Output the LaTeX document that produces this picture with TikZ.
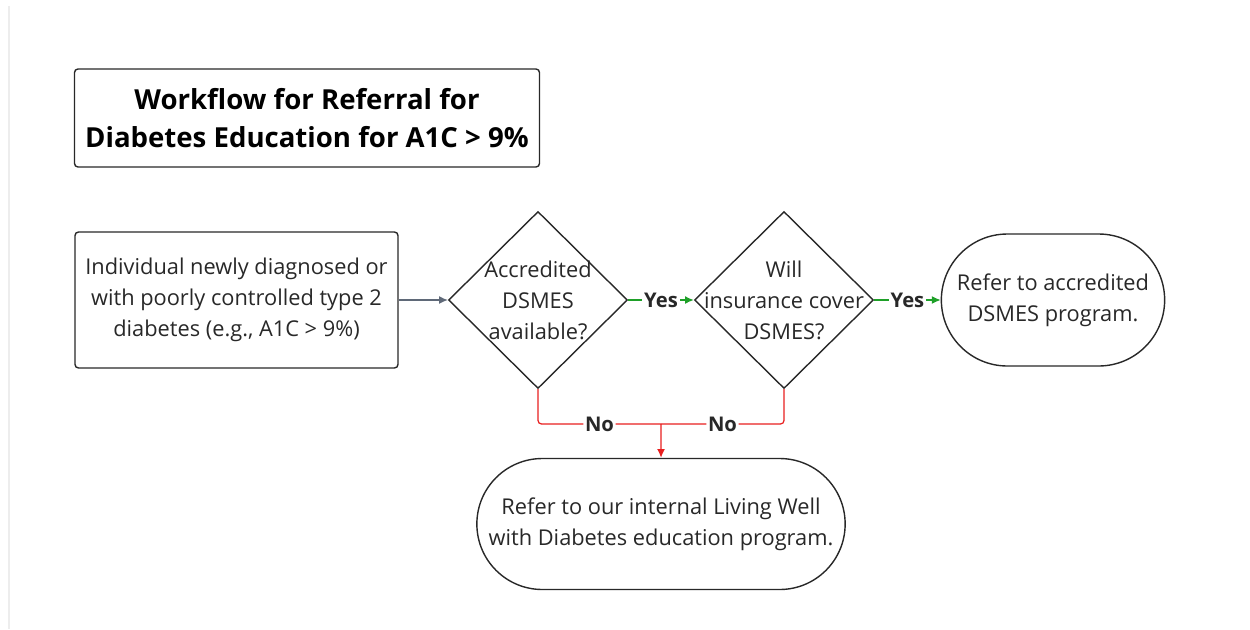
\documentclass[tikz,border=0pt]{standalone}
\usepackage{fontspec}
\setmainfont{Open Sans}
\usepackage{tikz}
\usetikzlibrary{arrows.meta}
\usetikzlibrary{shapes.geometric,shapes.misc}

\definecolor{inktext}{RGB}{40,40,40}
\definecolor{yesgreen}{RGB}{30,160,40}
\definecolor{nored}{RGB}{232,30,30}
\definecolor{flowgray}{RGB}{95,105,120}

\begin{document}
\begin{tikzpicture}[
    box/.style={draw=inktext, rectangle, rounded corners=2pt, align=center, text=inktext, line width=0.8pt},
    decision/.style={draw=inktext, diamond, minimum width=3.58cm, minimum height=3.54cm, inner sep=0pt, line width=0.8pt},
    terminal/.style={draw=inktext, rounded rectangle, align=center, text=inktext, line width=0.8pt},
    txt/.style={align=center, text=inktext, font=\fontsize{12.4}{17.6}\selectfont},
    lbl/.style={fill=white, inner sep=1pt, text=inktext, font=\fontsize{11.5}{12}\selectfont\bfseries},
    yes/.style={draw=yesgreen, line width=0.7pt, -{Latex[length=5pt,width=4.5pt]}},
    no/.style={draw=nored, line width=0.7pt, rounded corners=2pt},
    ]
    \useasboundingbox (0,0) rectangle (25,-12.58);
    \draw[black!7, line width=0.6pt] (0.18,-0.12) -- (0.18,-12.58);

    \node[box, minimum width=9.3cm, minimum height=1.96cm, font=\fontsize{15.7}{21.8}\selectfont\bfseries, text=black] (title) at (6.14,-2.36) {Workflow for Referral for\\Diabetes Education for A1C > 9\%};
    \node[box, minimum width=6.46cm, minimum height=2.72cm, font=\fontsize{12.4}{17.6}\selectfont] (start) at (4.73,-6.0) {Individual newly diagnosed or\\with poorly controlled type 2\\diabetes (e.g., A1C > 9\%)};
    \node[decision, label={[txt]center:{Accredited\\DSMES\\available?}}] (accr) at (10.76,-6.0) {};
    \node[decision, label={[txt]center:{Will\\insurance cover\\DSMES?}}] (cover) at (15.68,-6.0) {};
    \node[terminal, minimum width=4.7cm, minimum height=2.64cm, font=\fontsize{12.4}{17.6}\selectfont] (extprog) at (21.06,-6.0) {Refer to accredited\\DSMES program.};
    \node[terminal, minimum width=7.6cm, minimum height=2.62cm, font=\fontsize{12.4}{17.6}\selectfont] (living) at (13.22,-10.48) {Refer to our internal Living Well\\with Diabetes education program.};
    \coordinate (join) at (13.22,-8.48);

    \draw [flowgray, line width=0.6pt, -{Latex[length=5pt,width=4.5pt]}] (start) -- (accr);
    \draw [yes] (accr) -- node[lbl] {Yes} (cover);
    \draw [yes] (cover) -- node[lbl] {Yes} (extprog);
    \draw [no]  (accr.south) |- node[lbl, pos=0.75] {No} (join);
    \draw [no]  (cover.south) |- node[lbl, pos=0.75] {No} (join);
    \draw [nored, line width=0.7pt, -{Latex[length=5pt,width=4.5pt]}] (join) -- (living);
\end{tikzpicture}
\end{document}
